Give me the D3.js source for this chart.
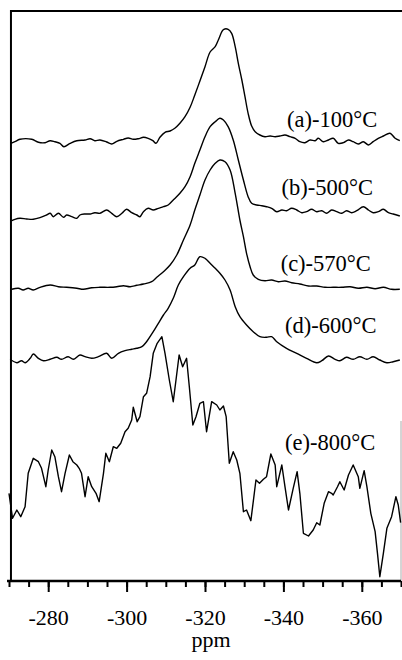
<!DOCTYPE html>
<html>
<head>
<meta charset="utf-8">
<script src="https://cdn.jsdelivr.net/npm/d3@7"></script>
<style>
  body { margin: 0; background: #fff; }
  svg { display: block; font-family: "Liberation Serif", "Times New Roman", serif; }
</style>
</head>
<body>
<div id="app"></div>
<script>
// NMR spectra, chemical shift in ppm, intensity in arbitrary units

var labels = ['(a)-100°C', '(b)-500°C', '(c)-570°C', '(d)-600°C', '(e)-800°C'];
var offsets = [440, 366, 293, 222, 0];
var labelAt = [[-340.9, 454], [-339.5, 386], [-339.3, 310], [-340.4, 248], [-340.4, 131]];

var majorTicks = [-280, -300, -320, -340, -360];
var xTitle = 'ppm';

var ppmA = [-270.5, -271.5, -272.8, -275.8, -277.5, -279.2, -280.5, -281.7, -283.0, -284.0, -285.6, -287.3, -289.4, -290.7, -291.9, -293.2, -294.9, -296.2, -297.5, -299.2, -300.4, -301.7, -303.0, -304.3, -305.5, -306.7, -307.5, -308.5, -309.8, -311.1, -312.3, -313.6, -314.9, -316.2, -317.4, -318.7, -320.0, -321.3, -322.6, -323.4, -324.3, -324.8, -325.9, -326.8, -327.7, -328.5, -329.4, -330.2, -331.0, -331.9, -332.8, -334.0, -335.3, -336.6, -337.9, -339.1, -340.4, -341.7, -343.0, -344.2, -345.5, -346.8, -348.1, -348.9, -350.2, -351.5, -352.7, -354.0, -355.3, -356.6, -357.8, -359.1, -360.4, -361.7, -362.9, -364.2, -365.5, -367.2, -368.5, -369.7];
var valA = [-2.3, -0.7, 1.7, 1.7, -1.3, -1.7, 0.3, -0.7, -2.3, -5.7, -2.3, 0.3, 1, 2.3, 0.3, 1, -1, -3, -0.3, 1.7, 3, 1.7, 2.3, 3.7, 2.7, 0.3, -2.3, 3.7, 8.7, 10, 12.7, 17.7, 24.3, 33.7, 46, 60, 74.3, 89, 94.3, 101, 109.3, 111.7, 111.7, 107.7, 94.3, 77.7, 61, 44.3, 27.7, 15, 9.3, 6, 4.3, 5, 4.3, 5, 6, 4.3, 2.7, -0.7, -1.7, 1, 0.3, 2.7, -0.7, 1, 2.7, -2.3, -1.7, 1, -0.7, -3, -0.7, -4, -0.7, 2.7, 5, 7.7, 2.7, 0.3];

var ppmB = [-270.7, -271.5, -272.8, -274.5, -276.2, -277.9, -279.6, -280.5, -281.3, -282.6, -283.9, -284.7, -286.0, -287.3, -288.1, -289.4, -290.7, -291.9, -293.2, -294.9, -296.2, -297.5, -298.8, -300.0, -301.3, -302.6, -303.4, -304.3, -305.5, -306.8, -308.1, -309.4, -310.6, -311.9, -313.6, -314.9, -316.2, -317.4, -318.7, -320.0, -321.3, -322.6, -323.8, -324.7, -325.9, -327.2, -328.5, -329.8, -331.0, -331.9, -333.2, -334.5, -335.7, -337.0, -338.3, -339.6, -340.8, -342.1, -343.4, -344.7, -345.9, -347.2, -348.5, -349.8, -351.0, -352.3, -353.6, -354.9, -356.1, -357.4, -358.7, -360.4, -361.7, -362.9, -364.2, -365.5, -366.8, -368.0, -369.7];
var valB = [-5.7, -4.3, -3.3, -4, -4.3, -2.7, 0, 1.7, -1.7, 1.7, -2.3, 0, -1.7, -3.3, 0, 1, 1, 2.3, 1.7, 5, 1.7, -1.7, 1.7, 5.7, 2.3, 0, -1.7, 3.3, 6.7, 5, 6.7, 8.3, 10, 15, 21.7, 28.3, 38.3, 51.7, 65, 78.3, 88.3, 93.3, 96.7, 95, 88.3, 75, 55, 35, 18.3, 11.7, 10, 9.3, 8.3, 6.7, 3.3, 5, 4.3, 6.7, 5, 2.3, 3.3, 5.7, 3.3, 4.3, 1.7, 5, 3.3, 1.7, 4.3, 2.3, 4.3, 8.3, 5, 2.3, 3.3, 5.7, 2.3, 1, -1];

var ppmC = [-270.7, -272.4, -273.6, -274.9, -276.2, -277.9, -280.5, -282.6, -284.7, -287.3, -289.0, -291.1, -293.2, -295.8, -297.5, -299.2, -300.9, -302.6, -304.3, -306.4, -307.7, -309.4, -311.1, -312.8, -314.5, -316.2, -317.4, -318.7, -320.0, -321.3, -322.6, -323.8, -325.1, -326.4, -327.7, -328.9, -329.8, -330.6, -331.5, -332.3, -333.6, -335.3, -337.0, -338.7, -340.4, -342.1, -344.2, -346.4, -348.5, -350.6, -352.7, -354.9, -357.0, -359.1, -361.3, -363.4, -365.5, -367.6, -369.7];
var valC = [-1.3, -0.3, -2, -0.3, -2, 0.7, 3, 1.3, 0.7, -0.3, -1.3, 0.3, 0.7, 0.7, 1.3, 2.3, 1.3, 2.7, 4, 6.3, 10.7, 16.3, 23, 33, 48, 63, 78, 93, 108, 118, 124.7, 128, 126.3, 118, 94.7, 68, 51.3, 34.7, 21.3, 13, 8.7, 7.3, 8, 6.3, 7, 5.3, 4, 2, 2, 0.7, 0.7, 0.7, 1.3, -0.3, 0.7, -0.7, 0.7, -1.3, -1.3];

var ppmD = [-270.3, -272.0, -273.2, -274.1, -275.4, -276.2, -277.5, -278.8, -280.5, -282.2, -283.4, -285.1, -286.4, -288.1, -289.4, -291.1, -292.8, -294.9, -296.2, -297.9, -299.6, -301.3, -302.6, -303.9, -305.1, -306.8, -308.1, -309.4, -310.6, -311.9, -313.2, -314.5, -316.2, -317.4, -318.7, -320.0, -321.3, -322.6, -323.8, -325.1, -326.4, -327.7, -328.9, -330.6, -332.3, -334.0, -335.7, -337.0, -338.3, -340.8, -343.4, -345.9, -348.5, -349.8, -351.5, -353.2, -354.4, -356.1, -357.8, -359.5, -361.3, -362.9, -364.6, -366.4, -368.0, -369.7];
var valD = [-0.3, -3.7, -1.7, -3.7, 0.7, 5, 0.7, -1.7, -0.3, 1.7, -0.3, 2.3, -0.3, 4, 2.3, 0.7, 2.3, 5.7, 0.7, 5.7, 8.3, 9.7, 10.7, 12.3, 17.3, 27.3, 35.7, 44, 50.7, 60.7, 74, 82.3, 90.7, 94, 102.3, 100.7, 95.7, 90.7, 85.7, 79, 69, 52.3, 42.3, 34, 27.3, 22.3, 21.7, 22.3, 17.3, 10.7, 5.7, 0.7, -3.7, -1.7, 3, -0.3, -1.7, 1.7, -0.3, 2.3, -0.3, 2.3, -1, -3.7, -2.7, -1];

var ppmE = [-270.0, -270.9, -272.0, -273.0, -274.1, -274.9, -276.2, -277.5, -278.3, -279.4, -280.0, -280.9, -281.7, -282.6, -283.4, -284.3, -285.4, -286.3, -287.3, -287.9, -288.5, -289.4, -290.2, -291.1, -292.2, -293.0, -294.1, -294.7, -295.6, -296.6, -297.5, -298.5, -299.6, -300.4, -301.3, -301.7, -302.7, -303.4, -304.3, -305.1, -306.0, -306.8, -307.8, -309.0, -309.8, -310.9, -311.9, -312.6, -313.4, -314.3, -315.3, -316.0, -316.9, -317.7, -318.7, -319.6, -320.4, -321.7, -323.0, -323.8, -324.7, -325.4, -326.2, -327.2, -328.1, -328.9, -329.8, -330.6, -331.7, -333.0, -333.9, -334.9, -335.7, -336.8, -337.9, -338.3, -339.6, -340.4, -341.3, -342.5, -343.5, -344.2, -345.1, -346.4, -347.6, -348.5, -349.3, -350.4, -351.5, -352.3, -352.7, -353.8, -354.4, -355.5, -356.6, -357.8, -359.1, -359.5, -360.6, -361.3, -362.3, -363.4, -364.0, -364.6, -365.5, -366.4, -367.6, -368.7, -369.3, -369.9];
var valE = [87.7, 62.7, 71, 64.3, 74.3, 107.7, 122.7, 119.3, 112.7, 94.3, 111, 131, 124.3, 104.3, 89.3, 107.7, 126, 119.3, 116, 112.7, 107.7, 84.3, 104.3, 94.3, 87.7, 79.3, 107.7, 127.7, 119.3, 134.3, 132.7, 137.7, 149.3, 152.7, 161, 173.7, 159.3, 164.3, 184.3, 187.7, 204.3, 227.7, 237.7, 244.3, 227.7, 201, 179.3, 201, 226, 214.3, 222.7, 194.3, 156, 164.3, 177.7, 179.3, 149.3, 179.3, 176, 171, 175, 164.3, 117.7, 129.3, 121, 107.7, 69.3, 71, 60.3, 101, 97.7, 101.7, 104.3, 127, 116, 94.3, 116, 94.3, 71, 92.7, 109.3, 87.7, 47.7, 45, 51, 58.3, 56, 77.7, 89.3, 87.7, 86, 94.3, 99.3, 91, 106, 116, 104.3, 92.7, 110.3, 94.3, 67.7, 49.3, 27.7, 4.3, 27.7, 52.7, 64.3, 84.3, 76, 58.3];

var spectra = [[ppmA, valA], [ppmB, valB], [ppmC, valC], [ppmD, valD], [ppmE, valE]];

var width = 402, height = 660;
var plotLeft = 9, plotRight = 401, plotTop = 11, plotBottom = 581;

var svg = d3.select('#app').append('svg')
  .attr('width', width)
  .attr('height', height);

var x = d3.scaleLinear().domain([-270, -370]).range([plotLeft, plotRight]);
var y = d3.scaleLinear().domain([0, 570]).range([plotBottom, plotTop]);

// frame: top and left lines, faint right edge
svg.append('line')
  .attr('x1', x(-270.5)).attr('x2', width)
  .attr('y1', y(570)).attr('y2', y(570))
  .attr('stroke', '#000').attr('stroke-width', 2);
svg.append('line')
  .attr('x1', x(-270.5)).attr('x2', x(-270.5))
  .attr('y1', y(570) - 1).attr('y2', y(0))
  .attr('stroke', '#000').attr('stroke-width', 2);
svg.append('line')
  .attr('x1', plotRight).attr('x2', plotRight)
  .attr('y1', y(160)).attr('y2', y(0))
  .attr('stroke', '#aaa').attr('stroke-width', 1);

// minor ticks every 5 ppm
var minorTicks = d3.range(-270, -371, -5);
var minorAxis = d3.axisBottom(x)
  .tickValues(minorTicks)
  .tickSize(6)
  .tickSizeOuter(0)
  .tickFormat('');
var gMinor = svg.append('g')
  .attr('transform', 'translate(0,' + plotBottom + ')')
  .call(minorAxis);
gMinor.select('.domain').attr('stroke-width', 2.5).attr('d', 'M' + (plotLeft - 2) + ',0H' + plotRight);
gMinor.selectAll('.tick line').attr('stroke-width', 2);

var majorAxis = d3.axisBottom(x)
  .tickValues(majorTicks)
  .tickSize(11)
  .tickSizeOuter(0)
  .tickPadding(17)
  .tickFormat(d3.format('d'));
var gMajor = svg.append('g')
  .attr('transform', 'translate(0,' + plotBottom + ')')
  .call(majorAxis);
gMajor.select('.domain').remove();
gMajor.selectAll('.tick line').attr('stroke-width', 2);
gMajor.selectAll('.tick text')
  .attr('font-family', '"Liberation Serif", serif')
  .attr('font-size', 22)
  .attr('fill', '#000')
  .text(function (d) { return '-' + Math.abs(d); });

svg.append('text')
  .attr('x', 211)
  .attr('y', 647)
  .attr('text-anchor', 'middle')
  .attr('font-size', 22)
  .text(xTitle);

// spectra: smooth the broad ones, keep the noisy 800°C trace sharp
var smoothLine = d3.line()
  .x(function (d) { return x(d[0]); })
  .y(function (d) { return y(d[1]); })
  .curve(d3.curveCatmullRom.alpha(0.5));
var sharpLine = d3.line()
  .x(function (d) { return x(d[0]); })
  .y(function (d) { return y(d[1]); });

spectra.forEach(function (s, i) {
  var pts = s[0].map(function (p, j) { return [p, s[1][j] + offsets[i]]; });
  svg.append('path')
    .datum(pts)
    .attr('fill', 'none')
    .attr('stroke', '#000')
    .attr('stroke-width', 1.4)
    .attr('stroke-linejoin', 'round')
    .attr('d', i < 4 ? smoothLine : sharpLine);
});

svg.selectAll('text.label')
  .data(labels)
  .enter()
  .append('text')
  .attr('class', 'label')
  .attr('x', function (d, i) { return x(labelAt[i][0]); })
  .attr('y', function (d, i) { return y(labelAt[i][1]); })
  .attr('font-size', 22.5)
  .attr('fill', '#000')
  .text(function (d) { return d; });
</script>
</body>
</html>
